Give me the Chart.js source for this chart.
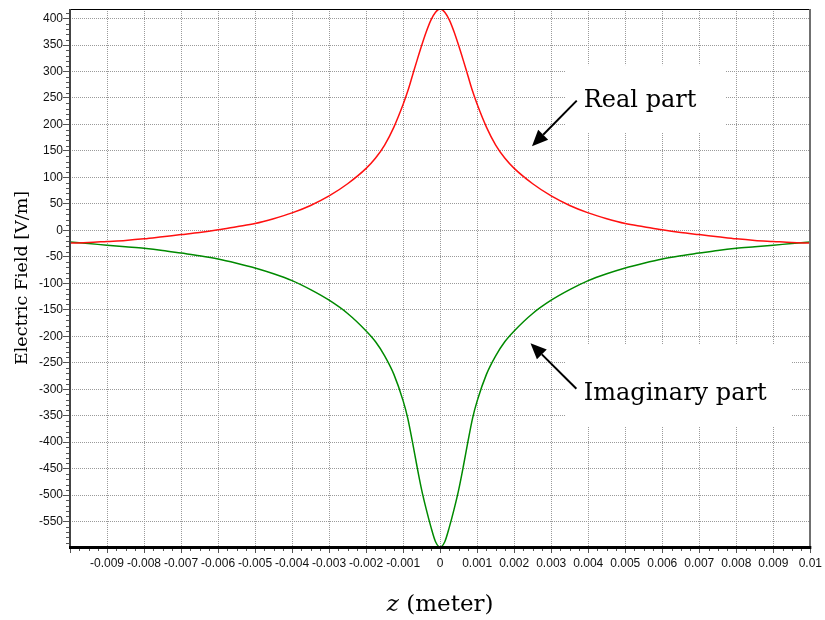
<!DOCTYPE html>
<html>
<head>
<meta charset="utf-8">
<script src="https://cdn.jsdelivr.net/npm/chart.js@4/dist/chart.umd.min.js"></script>
<style>
html,body{margin:0;padding:0;background:#fff;}
#wrap{width:825px;height:620px;}
</style>
</head>
<body>
<div id="wrap"><canvas id="c" width="825" height="620"></canvas></div>
<script>
// ---- data ----
const zValues = [-0.01, -0.0095, -0.009, -0.0085, -0.008, -0.0075, -0.007, -0.0065, -0.006, -0.0055,
  -0.005, -0.0045, -0.004, -0.0035, -0.003, -0.0025, -0.002, -0.00175, -0.0015, -0.00125,
  -0.001, -0.000875, -0.00075, -0.000625, -0.0005, -0.000375, -0.00025, -0.000125,
  0,
  0.000125, 0.00025, 0.000375, 0.0005, 0.000625, 0.00075, 0.000875, 0.001,
  0.00125, 0.0015, 0.00175, 0.002, 0.0025, 0.003, 0.0035, 0.004, 0.0045, 0.005,
  0.0055, 0.006, 0.0065, 0.007, 0.0075, 0.008, 0.0085, 0.009, 0.0095, 0.01];
const realPart = [-24, -23, -21, -19, -16, -12, -8, -4, 1, 7,
  13, 22, 33, 47, 65, 88, 117, 136, 161, 195,
  238, 263, 292, 321, 349, 375, 397, 412,
  418,
  412, 397, 375, 349, 321, 292, 263, 238,
  195, 161, 136, 117, 88, 65, 47, 33, 22, 13,
  7, 1, -4, -8, -12, -16, -19, -21, -23, -24];
const imagPart = [-22, -25, -28, -31, -34, -38, -43, -48, -54, -62,
  -71, -82, -95, -112, -132, -157, -190, -210, -237, -272,
  -322, -355, -399, -446, -490, -527, -560, -588,
  -598,
  -588, -560, -527, -490, -446, -399, -355, -322,
  -272, -237, -210, -190, -157, -132, -112, -95, -82, -71,
  -62, -54, -48, -43, -38, -34, -31, -28, -25, -22];
const seriesNames = ['Real part', 'Imaginary part'];
const xRange = [-0.01, 0.01];
const yRange = [-598, 418];
const xStep = 0.001;
const yStep = 50;

// annotation anchors in data units
const notes = [
  {text: 'Real part', at: [0.00388, 233], tail: [0.00369, 245], tip: [0.00248, 159], box: [0.0034, 312, 0.00771, 184]},
  {text: 'Imaginary part', at: [0.00388, -321], tail: [0.00368, -299], tip: [0.00244, -213], box: [0.0034, -216, 0.00949, -370]}
];

const toXY = (vals) => zValues.map((z, i) => ({x: z, y: vals[i]}));

const decor = {
  id: 'decor',
  beforeDatasetsDraw(chart) {
    const {ctx, scales: {x, y}} = chart;
    ctx.save();
    ctx.fillStyle = '#ffffff';
    for (const n of notes) {
      const X0 = x.getPixelForValue(n.box[0]), Y0 = y.getPixelForValue(n.box[1]);
      const X1 = x.getPixelForValue(n.box[2]), Y1 = y.getPixelForValue(n.box[3]);
      ctx.fillRect(X0, Y0, X1 - X0, Y1 - Y0);
    }
    ctx.restore();
  },
  afterDatasetsDraw(chart) {
    const {ctx, chartArea: a, scales: {x, y}} = chart;
    ctx.save();
    // minor ticks
    ctx.strokeStyle = '#555';
    ctx.lineWidth = 1;
    ctx.beginPath();
    for (let k = -39; k <= 39; k++) {
      if (k % 4 === 0) continue;
      const px = Math.round(x.getPixelForValue(k * xStep / 4)) + 0.5;
      ctx.moveTo(px, a.bottom);
      ctx.lineTo(px, a.bottom + 4);
    }
    for (let k = -59; k <= 41; k++) {
      if (k % 5 === 0) continue;
      const py = Math.round(y.getPixelForValue(k * yStep / 5)) + 0.5;
      ctx.moveTo(a.left - 4, py);
      ctx.lineTo(a.left, py);
    }
    ctx.stroke();
    // frame
    ctx.fillStyle = '#000';
    ctx.fillRect(a.left, Math.round(a.top), a.right - a.left, 1);
    ctx.fillStyle = '#707070';
    ctx.fillRect(Math.round(a.right) - 1, a.top, 2, a.bottom - a.top);
    ctx.fillStyle = '#444';
    ctx.fillRect(Math.round(a.left) - 1, a.top, 2, a.bottom - a.top);
    ctx.fillStyle = '#000';
    ctx.fillRect(a.left - 1, Math.round(a.bottom) - 1, a.right - a.left + 2, 3);
    // arrows and labels
    ctx.fillStyle = '#000';
    ctx.strokeStyle = '#000';
    for (const n of notes) {
      const tx = x.getPixelForValue(n.tail[0]), ty = y.getPixelForValue(n.tail[1]);
      const hx = x.getPixelForValue(n.tip[0]), hy = y.getPixelForValue(n.tip[1]);
      const ang = Math.atan2(hy - ty, hx - tx);
      const L = 16, W = 7;
      const bx = hx - L * Math.cos(ang), by = hy - L * Math.sin(ang);
      ctx.lineWidth = 2;
      ctx.beginPath();
      ctx.moveTo(tx, ty);
      ctx.lineTo(bx, by);
      ctx.stroke();
      ctx.beginPath();
      ctx.moveTo(hx, hy);
      ctx.lineTo(bx + W * Math.sin(ang), by - W * Math.cos(ang));
      ctx.lineTo(bx - W * Math.sin(ang), by + W * Math.cos(ang));
      ctx.closePath();
      ctx.fill();
      ctx.font = '24px "DejaVu Serif"';
      ctx.textAlign = 'left';
      ctx.textBaseline = 'alphabetic';
      ctx.fillText(n.text, x.getPixelForValue(n.at[0]), y.getPixelForValue(n.at[1]));
    }
    // x-axis title: italic z + (meter)
    const cx = (a.left + a.right) / 2;
    ctx.font = 'italic 23px "DejaVu Serif"';
    const wz = ctx.measureText('z').width;
    ctx.font = '23px "DejaVu Serif"';
    const ws = ctx.measureText(' ').width;
    const wm = ctx.measureText('(meter)').width;
    const sx = cx - (wz + ws + wm) / 2;
    const base = 611;
    ctx.font = 'italic 23px "DejaVu Serif"';
    ctx.fillText('z', sx, base);
    ctx.font = '23px "DejaVu Serif"';
    ctx.fillText('(meter)', sx + wz + ws, base);
    ctx.restore();
  }
};

Chart.defaults.font.family = '"Liberation Sans", Arial, sans-serif';
Chart.defaults.color = '#111';

new Chart(document.getElementById('c'), {
  type: 'line',
  data: {
    datasets: [
      {label: seriesNames[0], data: toXY(realPart), borderColor: '#ff1010', borderWidth: 1.5,
       pointRadius: 0, cubicInterpolationMode: 'monotone', fill: false},
      {label: seriesNames[1], data: toXY(imagPart), borderColor: '#008a00', borderWidth: 1.5,
       pointRadius: 0, cubicInterpolationMode: 'monotone', fill: false}
    ]
  },
  options: {
    responsive: false,
    animation: false,
    layout: {padding: {left: 0, right: 13, top: 9, bottom: 0}},
    plugins: {legend: {display: false}, tooltip: {enabled: false}},
    scales: {
      x: {
        type: 'linear',
        min: xRange[0], max: xRange[1],
        afterFit(scale) { scale.height = 73; },
        grid: {color: '#9a9a9a', lineWidth: 1, tickColor: '#555', tickLength: 6, tickBorderDash: []},
        border: {display: false, dash: [1, 1]},
        ticks: {
          stepSize: xStep, autoSkip: false, maxRotation: 0, minRotation: 0, padding: 3,
          font: {size: 12}, color: '#111',
          callback: (v) => (v <= xRange[0] + 1e-9 ? '' : String(parseFloat(Number(v).toFixed(4))))
        }
      },
      y: {
        type: 'linear',
        min: yRange[0], max: yRange[1],
        afterFit(scale) { scale.width = 70; },
        grid: {color: '#9a9a9a', lineWidth: 1, tickColor: '#555', tickLength: 7, tickBorderDash: []},
        border: {display: false, dash: [1, 1]},
        ticks: {stepSize: yStep, includeBounds: false, padding: 0, font: {size: 12}, color: '#111',
          callback: (v) => String(v)},
        title: {display: true, text: 'Electric Field [V/m]', color: '#000',
          font: {family: '"DejaVu Serif"', size: 17.5}, padding: {top: 12, bottom: 0}}
      }
    }
  },
  plugins: [decor]
});
</script>
</body>
</html>
